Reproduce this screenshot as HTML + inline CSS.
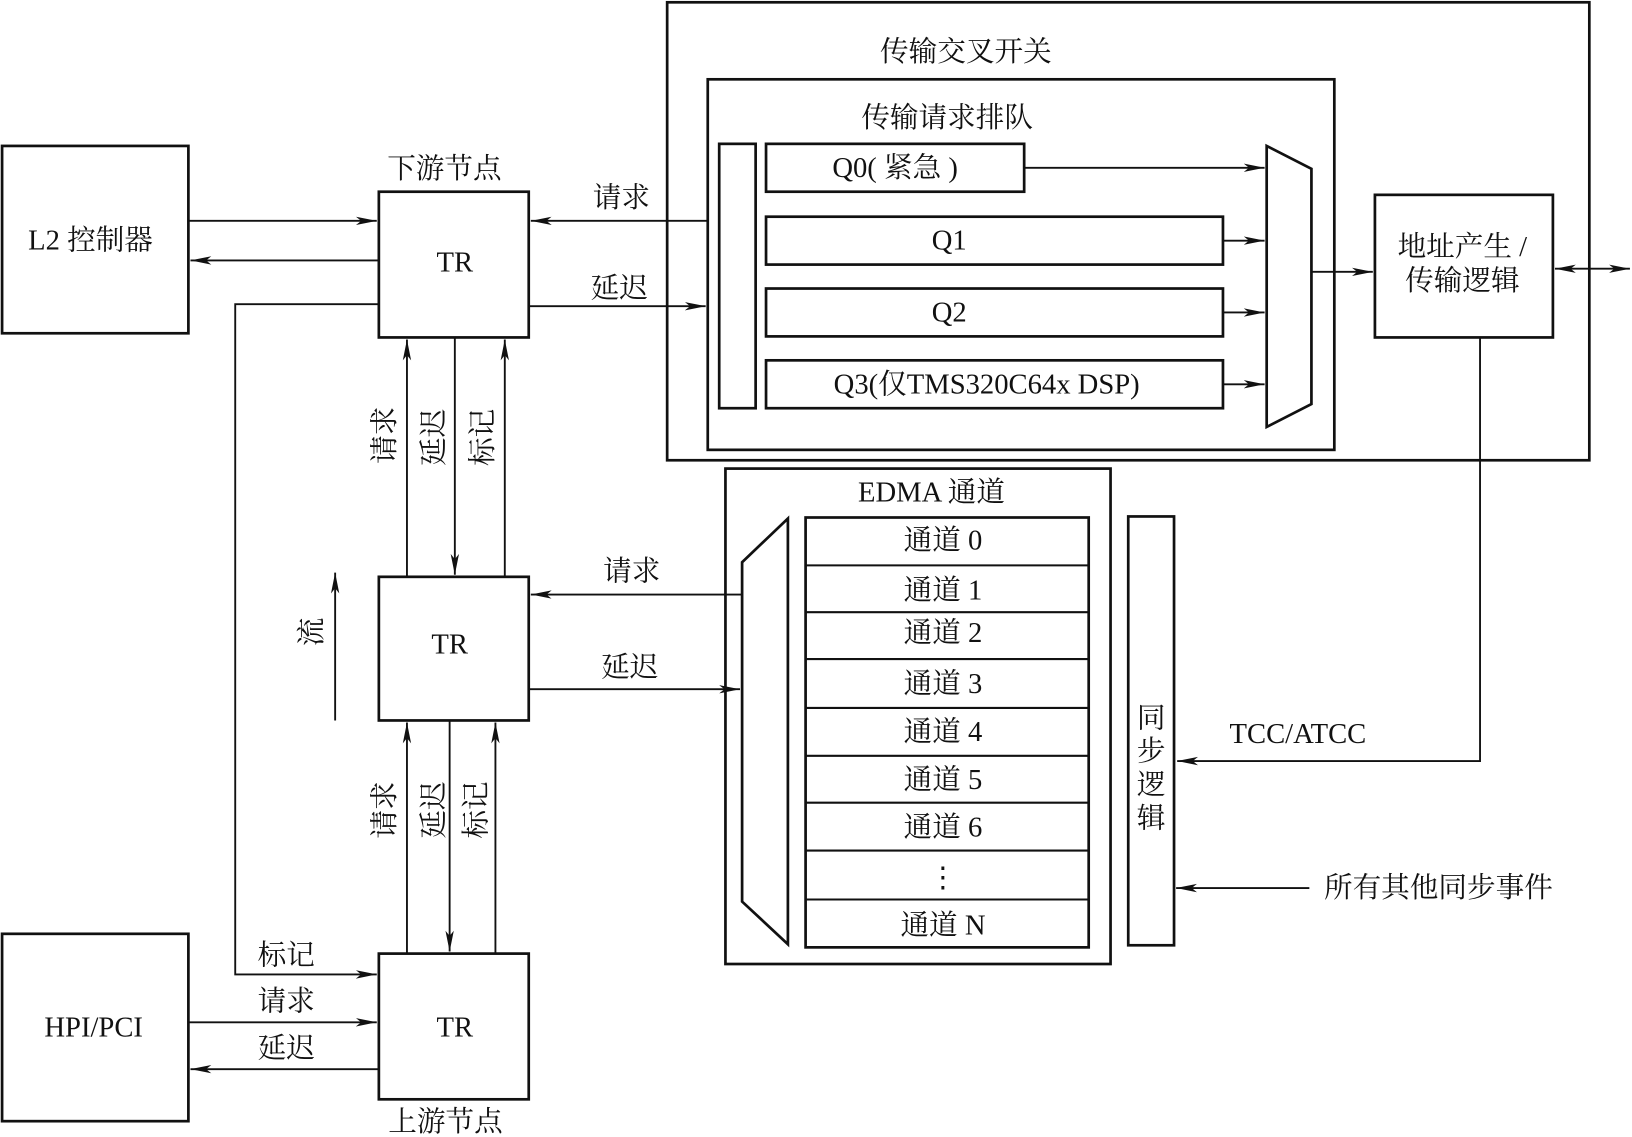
<!DOCTYPE html>
<html><head><meta charset="utf-8"><style>
html,body{margin:0;padding:0;background:#fff;}
svg{display:block;}
text{font-family:"Liberation Serif","Noto Serif CJK SC","Noto Sans CJK SC",serif;font-size:27.5px;fill:#111;}
</style></head><body>
<svg width="1632" height="1137" viewBox="0 0 1568 1092" xmlns="http://www.w3.org/2000/svg">
<defs>
<marker id="a" viewBox="0 0 20 10" refX="20" refY="5" markerWidth="20" markerHeight="10" markerUnits="userSpaceOnUse" orient="auto-start-reverse">
<path d="M0,1 L20,5 L0,9 L5,5 Z" fill="#111"/></marker>
</defs>
<g fill="none" stroke="#111" stroke-width="2.6">
<rect x="641" y="2" width="886" height="440"/>
<rect x="680" y="76" width="602" height="356"/>
<rect x="691" y="138" width="35" height="254"/>
<rect x="736" y="138" width="248" height="46"/>
<rect x="736" y="208" width="439" height="46"/>
<rect x="736" y="277" width="439" height="46"/>
<rect x="736" y="346" width="439" height="46"/>
<path d="M1217,140 L1260,162 L1260,388 L1217,410 Z"/>
<rect x="1321" y="187" width="171" height="137"/>
<rect x="2" y="140" width="179" height="180"/>
<rect x="364" y="184" width="144" height="140"/>
<rect x="364" y="554" width="144" height="138"/>
<rect x="364" y="916" width="144" height="140"/>
<rect x="2" y="897" width="179" height="180"/>
<rect x="697" y="450" width="370" height="476"/>
<path d="M713,540 L757,498 L757,907 L713,866 Z"/>
<rect x="774" y="497" width="272" height="413"/>
<rect x="1084" y="496" width="44" height="412"/>
</g>
<g stroke="#111" stroke-width="2">
<path d="M774,543H1046M774,588H1046M774,633H1046M774,680H1046M774,726H1046M774,771H1046M774,817H1046M774,864H1046"/>
</g>
<g fill="none" stroke="#111" stroke-width="1.8">
<line x1="984" y1="161" x2="1215" y2="161" marker-end="url(#a)"/>
<line x1="1175" y1="231" x2="1215" y2="231" marker-end="url(#a)"/>
<line x1="1175" y1="300" x2="1215" y2="300" marker-end="url(#a)"/>
<line x1="1175" y1="369" x2="1215" y2="369" marker-end="url(#a)"/>
<line x1="1260" y1="261" x2="1319" y2="261" marker-end="url(#a)"/>
<line x1="1494" y1="258" x2="1566" y2="258" marker-start="url(#a)" marker-end="url(#a)"/>
<path d="M1422,324 V731 H1131" marker-end="url(#a)"/>
<line x1="181" y1="212" x2="362" y2="212" marker-end="url(#a)"/>
<line x1="364" y1="250" x2="183" y2="250" marker-end="url(#a)"/>
<path d="M364,292 H226 V936 H362" marker-end="url(#a)"/>
<line x1="680" y1="212" x2="510" y2="212" marker-end="url(#a)"/>
<line x1="508" y1="294" x2="678" y2="294" marker-end="url(#a)"/>
<line x1="391" y1="554" x2="391" y2="326" marker-end="url(#a)"/>
<line x1="437" y1="324" x2="437" y2="552" marker-end="url(#a)"/>
<line x1="485" y1="554" x2="485" y2="326" marker-end="url(#a)"/>
<line x1="322" y1="692" x2="322" y2="550" marker-end="url(#a)"/>
<line x1="391" y1="916" x2="391" y2="694" marker-end="url(#a)"/>
<line x1="432" y1="692" x2="432" y2="914" marker-end="url(#a)"/>
<line x1="476" y1="916" x2="476" y2="694" marker-end="url(#a)"/>
<line x1="181" y1="982" x2="362" y2="982" marker-end="url(#a)"/>
<line x1="364" y1="1027" x2="183" y2="1027" marker-end="url(#a)"/>
<line x1="713" y1="571" x2="510" y2="571" marker-end="url(#a)"/>
<line x1="508" y1="662" x2="711" y2="662" marker-end="url(#a)"/>
<line x1="1258" y1="853" x2="1130" y2="853" marker-end="url(#a)"/>
</g>
<g text-anchor="middle" dominant-baseline="central">
<text x="928" y="50">传输交叉开关</text>
<text x="910" y="113">传输请求排队</text>
<text x="860" y="161">Q0( 紧急 )</text>
<text x="912" y="231">Q1</text>
<text x="912" y="300">Q2</text>
<text x="948" y="369">Q3(仅TMS320C64x DSP)</text>
<text x="1405" y="237">地址产生 /</text>
<text x="1405" y="270">传输逻辑</text>
<text x="87" y="231">L2 控制器</text>
<text x="427" y="162">下游节点</text>
<text x="437" y="252">TR</text>
<text x="432" y="619">TR</text>
<text x="437" y="987">TR</text>
<text x="428" y="1078">上游节点</text>
<text x="90" y="987">HPI/PCI</text>
<text x="597" y="190">请求</text>
<text x="595" y="277">延迟</text>
<text x="275" y="918">标记</text>
<text x="275" y="962">请求</text>
<text x="275" y="1007">延迟</text>
<text x="607" y="549">请求</text>
<text x="605" y="641">延迟</text>
<text x="895" y="473">EDMA 通道</text>
<text x="906" y="519">通道 0</text>
<text x="906" y="567">通道 1</text>
<text x="906" y="608">通道 2</text>
<text x="906" y="657">通道 3</text>
<text x="906" y="703">通道 4</text>
<text x="906" y="749">通道 5</text>
<text x="906" y="795">通道 6</text>
<text x="906" y="843">⋮</text>
<text x="906" y="889">通道 N</text>
<text x="1247" y="705">TCC/ATCC</text>
<text x="1382" y="853">所有其他同步事件</text>
<text x="1106" y="690">同</text>
<text x="1106" y="722">步</text>
<text x="1106" y="754">逻</text>
<text x="1106" y="786">辑</text>
<text transform="translate(370,418) rotate(-90)">请求</text>
<text transform="translate(417,420) rotate(-90)">延迟</text>
<text transform="translate(464,420) rotate(-90)">标记</text>
<text transform="translate(370,778) rotate(-90)">请求</text>
<text transform="translate(417,778) rotate(-90)">延迟</text>
<text transform="translate(458,778) rotate(-90)">标记</text>
<text transform="translate(300,607) rotate(-90)">流</text>
</g>
</svg>
</body></html>
